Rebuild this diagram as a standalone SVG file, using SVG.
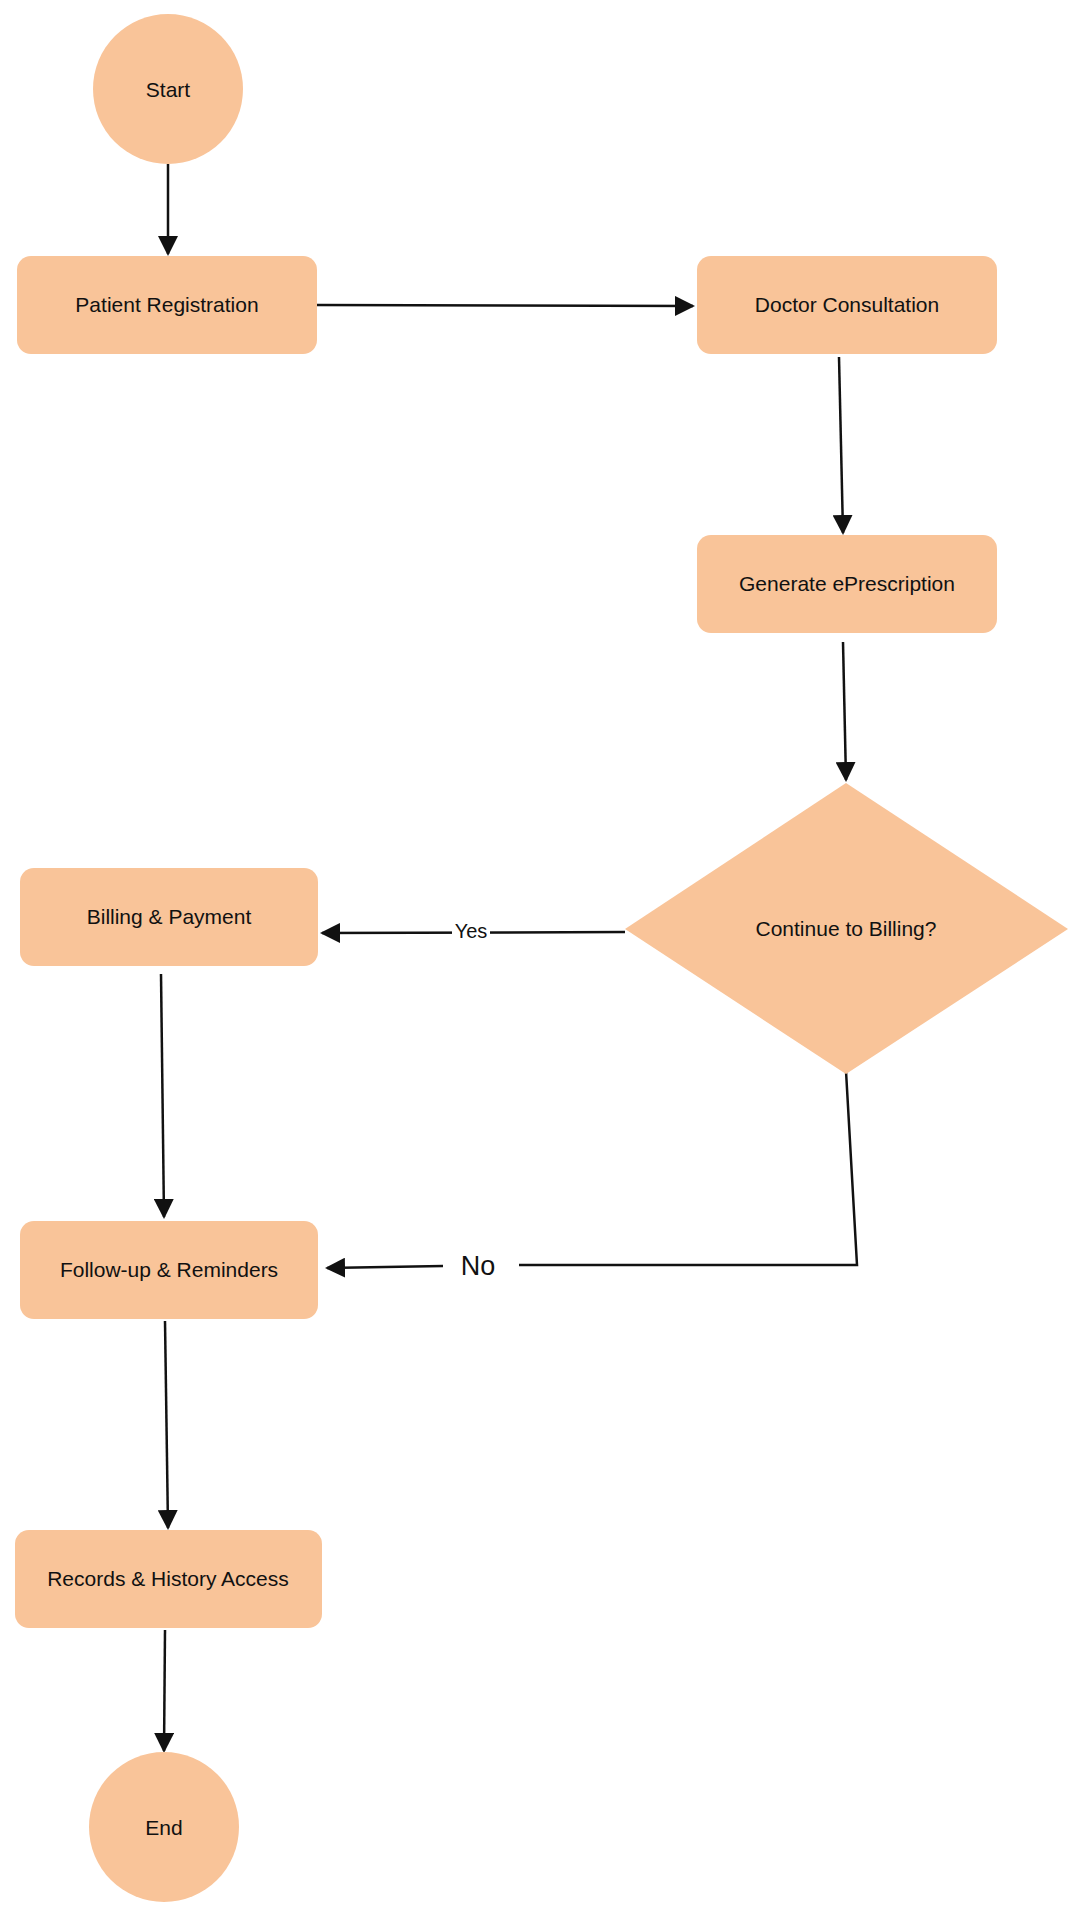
<svg xmlns="http://www.w3.org/2000/svg" width="1085" height="1920" viewBox="0 0 1085 1920">
<style>
.n{fill:#F9C499}
.t{font-family:"Liberation Sans",Arial,sans-serif;font-size:21px;fill:#111;text-anchor:middle;dominant-baseline:central}
.e{fill:none;stroke:#111;stroke-width:2.5}
</style>
<defs><marker id="a" viewBox="0 0 10 10" refX="9" refY="5" markerWidth="8" markerHeight="8" markerUnits="userSpaceOnUse" orient="auto"><path d="M0,0L10,5L0,10z" fill="#111"/></marker>
<marker id="ah" viewBox="0 0 10 10" refX="9" refY="5" markerWidth="8" markerHeight="8" orient="auto"><path d="M0,0L10,5L0,10z" fill="#111"/></marker></defs>
<rect width="1085" height="1920" fill="#fff"/>
<g id="edges">
<path class="e" d="M168,164L168,254" marker-end="url(#ah)"/>
<path class="e" d="M317,305L693,306" marker-end="url(#ah)"/>
<path class="e" d="M839,357L843,533" marker-end="url(#ah)"/>
<path class="e" d="M843,642L846,780" marker-end="url(#ah)"/>
<path class="e" d="M625,932L322,933" marker-end="url(#ah)"/>
<path class="e" d="M846,1071L857,1265L519,1265"/>
<path class="e" d="M443,1266L327,1268" marker-end="url(#ah)"/>
<path class="e" d="M161,974L164,1217" marker-end="url(#ah)"/>
<path class="e" d="M165,1321L168,1528" marker-end="url(#ah)"/>
<path class="e" d="M165,1630L164,1751" marker-end="url(#ah)"/>
<rect x="452" y="920" width="38" height="22" fill="#fff"/>
<text class="t" x="471" y="931" style="font-size:20px">Yes</text>
<text class="t" x="478" y="1266" style="font-size:27px">No</text>
</g>
<g id="start"><circle class="n" cx="168" cy="89" r="75"/><text class="t" x="168" y="89">Start</text></g>
<g id="reg"><rect class="n" x="17" y="256" width="300" height="98" rx="14"/><text class="t" x="167" y="304">Patient Registration</text></g>
<g id="doc"><rect class="n" x="697" y="256" width="300" height="98" rx="14"/><text class="t" x="847" y="304">Doctor Consultation</text></g>
<g id="gen"><rect class="n" x="697" y="535" width="300" height="98" rx="14"/><text class="t" x="847" y="583">Generate ePrescription</text></g>
<g id="dec"><polygon class="n" points="846,783 1068,929 846,1074 625,929"/><text class="t" x="846" y="928">Continue to Billing?</text></g>
<g id="bill"><rect class="n" x="20" y="868" width="298" height="98" rx="14"/><text class="t" x="169" y="916">Billing &amp; Payment</text></g>
<g id="follow"><rect class="n" x="20" y="1221" width="298" height="98" rx="14"/><text class="t" x="169" y="1269">Follow-up &amp; Reminders</text></g>
<g id="rec"><rect class="n" x="15" y="1530" width="307" height="98" rx="14"/><text class="t" x="168" y="1578">Records &amp; History Access</text></g>
<g id="end"><circle class="n" cx="164" cy="1827" r="75"/><text class="t" x="164" y="1827">End</text></g>
</svg>
